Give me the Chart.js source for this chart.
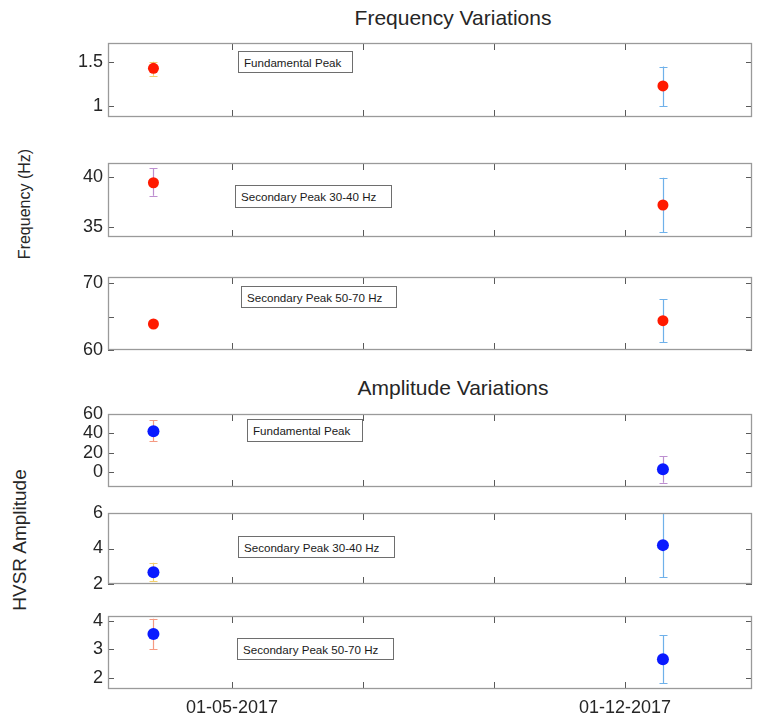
<!DOCTYPE html>
<html>
<head>
<meta charset="utf-8">
<script src="https://cdn.jsdelivr.net/npm/chart.js@4/dist/chart.umd.min.js"></script>
<style>
  html, body { margin:0; padding:0; background:#fff; }
  body { width:758px; height:716px; position:relative; overflow:hidden;
         font-family:"Liberation Sans", Arial, Helvetica, sans-serif; color:#262626; }
  .wrap { position:absolute; left:0; width:758px; }
  .title { position:absolute; width:300px; text-align:center; font-size:21px; line-height:24px; }
  .ylab { position:absolute; white-space:nowrap; transform:translate(-50%,-50%) rotate(-90deg); }
  .leg { position:absolute; box-sizing:border-box; border:1px solid #6e6e6e; background:#fff;
         font-size:11.6px; padding-left:5px; display:flex; align-items:center; white-space:nowrap; color:#1a1a1a; }
</style>
</head>
<body>
<script>
// ---------------- data ----------------
const xTickPos = [0, 1, 2, 3];
const xTickLabels = ['01-05-2017', '', '', '01-12-2017'];
const obsX = [-0.6, 3.29];           // observation dates in x-tick units

const peakLabels = ['Fundamental Peak', 'Secondary Peak 30-40 Hz', 'Secondary Peak 50-70 Hz'];

// Frequency (Hz)
const freqFundVal = [1.425, 1.226];
const freqFundLo  = [1.34, 1.0];
const freqFundHi  = [1.5, 1.444];
const freq30Val = [39.4, 37.2];
const freq30Lo  = [38.12, 34.5];
const freq30Hi  = [40.84, 39.9];
const freq50Val = [63.9, 64.4];
const freq50Lo  = [63.9, 61.2];
const freq50Hi  = [63.9, 67.6];

// HVSR amplitude
const ampFundVal = [42.4, 2.5];
const ampFundLo  = [31.8, -11.5];
const ampFundHi  = [53.8, 16.4];
const amp30Val = [2.66, 4.19];
const amp30Lo  = [2.15, 2.38];
const amp30Hi  = [3.2, 6.0];
const amp50Val = [3.54, 2.65];
const amp50Lo  = [3.0, 1.8];
const amp50Hi  = [4.08, 3.5];

// y tick values / labels
const freqFundTicks = [1, 1.5];
const freq30Ticks = [35, 40];
const freq50Ticks = [60, 65, 70];
const freq50TickLabels = ['60', '', '70'];
const ampFundTicks = [0, 20, 40, 60];
const amp30Ticks = [2, 4, 6];
const amp50Ticks = [2, 3, 4];

// ---------------- layout / style ----------------
const RED = '#ff1a00', BLUE = '#0a1aff';
const E_YEL = '#f2cf6e', E_SAL = '#f59a82', E_PUR = '#bd8fd0', E_BLU = '#6fb1ea';
const PAD = 12;

const panels = [
  {top:43,  bottom:117, val:freqFundVal, lo:freqFundLo, hi:freqFundHi, min:0.876, max:1.71, ticks:freqFundTicks, color:RED,  err:[E_YEL,E_BLU], label:peakLabels[0], leg:[238,51,115,22]},
  {top:163, bottom:237, val:freq30Val,   lo:freq30Lo,   hi:freq30Hi,   min:34.04, max:41.35, ticks:freq30Ticks, color:RED,  err:[E_PUR,E_BLU], label:peakLabels[1], leg:[235,185,157,23]},
  {top:277, bottom:350, val:freq50Val,   lo:freq50Lo,   hi:freq50Hi,   min:60,    max:70.95, ticks:freq50Ticks, tickLabels:freq50TickLabels, color:RED, err:[E_SAL,E_BLU], label:peakLabels[2], leg:[241,286,156,22]},
  {top:414, bottom:487, val:ampFundVal,  lo:ampFundLo,  hi:ampFundHi,  min:-16,   max:60.4, ticks:ampFundTicks, color:BLUE, err:[E_SAL,E_PUR], label:peakLabels[0], leg:[247,419,116,23]},
  {top:513, bottom:584, val:amp30Val,    lo:amp30Lo,    hi:amp30Hi,    min:2,     max:6,    ticks:amp30Ticks,   color:BLUE, err:[E_YEL,E_BLU], label:peakLabels[1], leg:[238,536,157,22]},
  {top:616, bottom:689, val:amp50Val,    lo:amp50Lo,    hi:amp50Hi,    min:1.6,   max:4.18, ticks:amp50Ticks,   color:BLUE, err:[E_SAL,E_BLU], label:peakLabels[2], leg:[237,638,157,22], last:true}
];

function addDiv(cls, text, css) {
  const d = document.createElement('div');
  d.className = cls; d.textContent = text;
  Object.assign(d.style, css);
  document.body.appendChild(d);
  return d;
}

addDiv('title', 'Frequency Variations', {left:'303px', top:'6px'});
addDiv('title', 'Amplitude Variations', {left:'303px', top:'376px'});
addDiv('ylab', 'Frequency (Hz)', {left:'25px', top:'204px', fontSize:'16px'});
addDiv('ylab', 'HVSR Amplitude', {left:'20px', top:'540px', fontSize:'19px'});

const boxPlugin = {
  id: 'boxTicks',
  beforeDatasetsDraw(chart) {
    const p = chart.config.options.plugins.boxTicks.panel;
    const {ctx, scales:{x, y}} = chart;
    ctx.save();
    ctx.lineWidth = 1.2;
    for (let i = 0; i < obsX.length; i++) {
      if (p.lo[i] === p.hi[i]) continue;
      const px = Math.round(x.getPixelForValue(obsX[i])) + 0.5;
      const yl = y.getPixelForValue(p.lo[i]);
      const yh = y.getPixelForValue(p.hi[i]);
      ctx.strokeStyle = p.err[i];
      ctx.beginPath();
      ctx.moveTo(px, yl); ctx.lineTo(px, yh);
      ctx.moveTo(px - 4, Math.round(yl) + 0.5); ctx.lineTo(px + 4, Math.round(yl) + 0.5);
      ctx.moveTo(px - 4, Math.round(yh) + 0.5); ctx.lineTo(px + 4, Math.round(yh) + 0.5);
      ctx.stroke();
    }
    ctx.restore();
  },
  afterDraw(chart) {
    const p = chart.config.options.plugins.boxTicks.panel;
    const {ctx, chartArea:a, scales:{x, y}} = chart;
    ctx.save();
    ctx.strokeStyle = '#5a5a5a';
    ctx.lineWidth = 1;
    ctx.beginPath();
    xTickPos.forEach(v => {
      const px = Math.round(x.getPixelForValue(v)) + 0.5;
      if (px < a.left || px > a.right) return;
      ctx.moveTo(px, a.top); ctx.lineTo(px, a.top + 7);
      ctx.moveTo(px, a.bottom); ctx.lineTo(px, a.bottom - 7);
    });
    p.ticks.forEach(v => {
      const py = Math.round(y.getPixelForValue(v)) + 0.5;
      ctx.moveTo(a.left, py); ctx.lineTo(a.left + 6, py);
      ctx.moveTo(a.right, py); ctx.lineTo(a.right - 6, py);
    });
    ctx.stroke();
    ctx.strokeStyle = '#9a9a9a';
    ctx.lineWidth = 1.3;
    ctx.strokeRect(a.left + 0.5, a.top + 0.5, a.width - 1, a.height - 1);
    ctx.restore();
  }
};

const FONT = {family:'"Liberation Sans", Arial, Helvetica, sans-serif', size:18};

panels.forEach(p => {
  const h = (p.bottom - p.top);
  const xH = p.last ? 28 : 0;
  const wrap = document.createElement('div');
  wrap.className = 'wrap';
  wrap.style.top = (p.top - PAD) + 'px';
  wrap.style.height = (h + PAD + (p.last ? xH : PAD)) + 'px';
  const cv = document.createElement('canvas');
  wrap.appendChild(cv);
  document.body.appendChild(wrap);

  const [lx, ly, lw, lh] = p.leg;
  addDiv('leg', p.label, {left:lx+'px', top:ly+'px', width:lw+'px', height:lh+'px'});

  new Chart(cv, {
    type: 'scatter',
    data: {
      datasets: [{
        data: obsX.map((xv, i) => ({x: xv, y: p.val[i]})),
        backgroundColor: p.color,
        borderWidth: 0,
        pointRadius: p.color === RED ? 5.5 : 6,
        pointHoverRadius: 6
      }]
    },
    options: {
      responsive: true,
      maintainAspectRatio: false,
      animation: false,
      layout: {padding: {top: PAD, bottom: p.last ? 0 : PAD, left: 0, right: 1}},
      plugins: {legend: {display: false}, tooltip: {enabled: false}, boxTicks: {panel: p}},
      scales: {
        x: {
          type: 'linear', min: -0.947, max: 3.97,
          display: !!p.last,
          grid: {display: false, drawTicks: false},
          border: {display: false},
          afterBuildTicks: s => { s.ticks = xTickPos.map(v => ({value: v})); },
          afterFit: s => { s.height = xH; s.paddingLeft = 0; s.paddingRight = 0; },
          ticks: {
            autoSkip: false, maxRotation: 0, padding: 8, color: '#262626', font: FONT,
            callback: (v, i) => xTickLabels[i]
          }
        },
        y: {
          type: 'linear', min: p.min, max: p.max,
          grid: {display: false, drawTicks: false},
          border: {display: false},
          afterBuildTicks: s => { s.ticks = p.ticks.map(v => ({value: v})); },
          afterFit: s => { s.width = 108; s.paddingTop = 0; s.paddingBottom = 0; },
          ticks: {
            autoSkip: false, padding: 5, color: '#262626', font: FONT,
            callback: (v, i) => p.tickLabels ? p.tickLabels[i] : String(p.ticks[i])
          }
        }
      }
    },
    plugins: [boxPlugin]
  });
});
</script>
</body>
</html>
